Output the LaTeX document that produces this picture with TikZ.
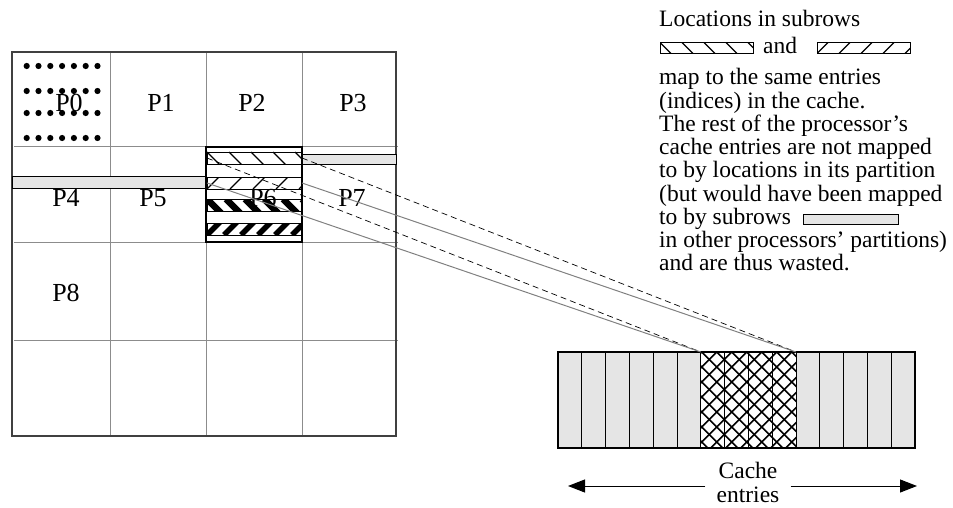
\documentclass[tikz,border=0pt]{standalone}
\usepackage{fontspec}
\setmainfont{Liberation Serif}
\usetikzlibrary{arrows.meta}
\newcommand\notefont{\fontsize{23.5}{24}\selectfont}
\newcommand\cellfont{\fontsize{26}{26}\selectfont}
\begin{document}
\begin{tikzpicture}[x=1pt, y=-1pt,
  gridline/.style={draw=black!45, line width=1pt},
  plabel/.style={font=\cellfont, inner sep=0pt},
  note/.style={font=\notefont, anchor=base west, inner sep=0pt},
  subrow/.style={draw=black, line width=0.9pt, inner sep=0pt, outer sep=0pt, minimum height=12pt},
  grayrow/.style={subrow, fill=black!10},
  hatchdown/.style 2 args={path picture={\foreach \k in {-1,...,9} \draw[line width=#2] ([xshift={\k*#1}]path picture bounding box.north west) -- ++(14,14);}},
  hatchup/.style 2 args={path picture={\foreach \k in {-1,...,9} \draw[line width=#2] ([xshift={\k*#1}]path picture bounding box.south west) -- ++(14,-14);}},
  cachecell/.style={draw=black, line width=0.9pt, inner sep=0pt, outer sep=0pt, minimum width=23.8pt, minimum height=96pt},
  dashlink/.style={draw=black, line width=0.7pt, dash pattern=on 6pt off 4pt},
  graylink/.style={draw=black!50, line width=1pt},
  spanarrow/.style={-{Triangle[length=17pt,width=13pt]}, line width=1pt}]
  \useasboundingbox (0,0) rectangle (953,508);
  \foreach \x in {110,206,302} \draw[gridline] (\x,52) -- (\x,436);
  \foreach \y in {147,242,340} \draw[gridline] (14,\y) -- (398,\y);
  \draw[draw=black!75, line width=1.4pt] (12,52) rectangle (396,436);
  \foreach \r in {66,91,113,138} \foreach \c in {0,...,6} \fill ({26.7+\c*11.8},\r) circle (3.1pt);
  \node[plabel] (p0) at (69,103) {P0};
  \node[plabel] (p1) at (161,103) {P1};
  \node[plabel] (p2) at (252,103) {P2};
  \node[plabel] (p3) at (353,103) {P3};
  \node[plabel] (p4) at (66,198) {P4};
  \node[plabel] (p5) at (153,198) {P5};
  \node[plabel] (p6) at (263,198) {P6};
  \node[plabel] (p7) at (352,198) {P7};
  \node[plabel] (p8) at (66,293) {P8};
  \node[draw=black, line width=1.3pt, inner sep=0pt, minimum width=96pt, minimum height=95pt] (colbox) at (254,194.5) {};
  \node[subrow, hatchdown={22pt}{1.3pt}, minimum width=95pt] (rowa) at (254.5,158) {};
  \node[subrow, hatchup={23pt}{1.3pt}, minimum width=95pt] (rowb) at (254.5,183) {};
  \node[subrow, hatchdown={19pt}{6.5pt}, minimum width=95pt] (rowc) at (254.5,205) {};
  \node[subrow, hatchup={17pt}{5.5pt}, minimum width=95pt] (rowd) at (254.5,229) {};
  \node[grayrow, minimum width=94pt, minimum height=10pt] (grayright) at (349,159) {};
  \node[grayrow, minimum width=193pt] (grayleft) at (108.5,182) {};
  \foreach \i in {1,...,6,11,12,...,15} \node[cachecell, fill=black!10] (c\i) at ({558+(\i-0.5)*23.8},400) {};
  \foreach \i in {7,...,10} \node[cachecell, fill=white] (c\i) at ({558+(\i-0.5)*23.8},400) {};
  \begin{scope}
    \clip (c7.north west) rectangle (c10.south east);
    \foreach \k in {-7,...,13} {
      \draw[line width=1.6pt] ({701.8+15*\k},352) -- ++(96,96);
      \draw[line width=1.6pt] ({701.8+15*\k},352) -- ++(-96,96);
    }
  \end{scope}
  \draw[line width=1.4pt] (c1.north west) rectangle (c15.south east);
  \draw[dashlink] (rowa.west) -- (c7.north west);
  \draw[dashlink] (rowa.east) -- (c10.north east);
  \draw[graylink] (rowb.west) -- (c7.north west);
  \draw[graylink] (rowb.east) -- (c10.north east);
  \node[font=\notefont, align=center, inner xsep=11pt, inner ysep=0pt] (cachelbl) at (748,482) {Cache\\entries};
  \coordinate (leftend) at (568,486);
  \coordinate (rightend) at (917,486);
  \draw[spanarrow] (cachelbl.west |- leftend) -- (leftend);
  \draw[spanarrow] (cachelbl.east |- rightend) -- (rightend);
  \node[note] (loc) at (659,27) {Locations in subrows};
  \node[subrow, hatchdown={22pt}{1.3pt}, minimum width=93pt, minimum height=11pt] (keya) at (706.5,48) {};
  \node[note] (andword) at (763,54) {and};
  \node[subrow, hatchup={22pt}{1.3pt}, minimum width=93pt, minimum height=11pt] (keyb) at (863.5,48) {};
  \node[note] (mapto) at (659,85) {map to the same entries};
  \node[note] (indices) at (659,108.2) {(indices) in the cache.};
  \node[note] (rest) at (659,131.4) {The rest of the processor's};
  \node[note] (entries) at (659,154.6) {cache entries are not mapped};
  \node[note] (byloc) at (659,177.8) {to by locations in its partition};
  \node[note] (would) at (659,201) {(but would have been mapped};
  \node[note] (bysub) at (659,224.2) {to by subrows};
  \node[grayrow, minimum width=95pt, minimum height=10pt] (keyc) at (850.5,219) {};
  \node[note] (others) at (659,247.4) {in other processors' partitions)};
  \node[note] (wasted) at (659,270.6) {and are thus wasted.};
\end{tikzpicture}
\end{document}
